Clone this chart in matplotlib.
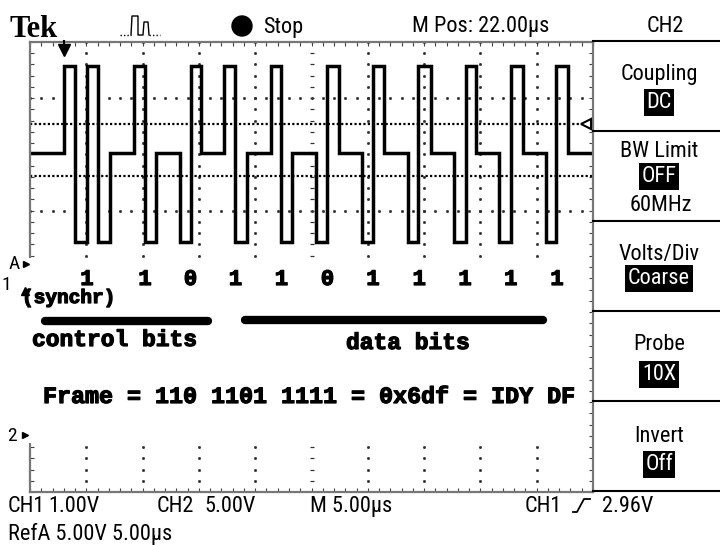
import numpy as np
import matplotlib
matplotlib.use('Agg')
import matplotlib.pyplot as plt
import matplotlib.patheffects as pe
from matplotlib import font_manager as fm
from matplotlib.transforms import blended_transform_factory
from matplotlib.patches import Rectangle, Circle

# CH1 trace: edge times (us from left edge) and level after each edge
edge_t = [0.0,
          3.02, 4.00, 5.06, 6.08, 7.10,
          9.24, 10.21, 11.19,
          13.32, 14.30, 15.19,
          17.23, 18.25, 19.27,
          21.40, 22.29, 23.27,
          25.40, 26.38, 27.44,
          29.48, 30.42, 31.44,
          33.53, 34.50, 35.61,
          37.66, 38.68, 39.61,
          41.65, 42.72, 43.74,
          45.83, 46.71, 47.78]
edge_lvl = list("B" "HLHLB" "HLB" "LHB" "HLB" "HLB" "LHB" "LHB" "LHB" "LHB" "LHB" "LHB")
level_volts = {'H': 4.00, 'B': 2.45, 'L': 0.87}

bits = ['1', '1', '0', '1', '1', '0', '1', '1', '1', '1', '1']
frame_text = "Frame = 110 1101 1111 = 0x6df = IDY DF"

# scope settings
t_div = 5.0          # us/div
ch1_vdiv = 1.00      # V/div
ch1_pos = -0.42      # div
trig_level = 2.96    # V
cursor2 = 2.03       # V
m_pos = 22.0         # us
t_span = 10 * t_div

control_span = (1.3, 15.8)   # us, underline of control bits
data_span = (19.1, 45.6)     # us, underline of data bits

MONO = 'Liberation Mono'
BOLDER = [pe.withStroke(linewidth=0.9, foreground='black')]


def pick_scope_font():
    # narrow screen font if one is around, else plain Liberation Sans a bit smaller
    for fam, st in [('Liberation Sans Narrow', 'normal'), ('Roboto Condensed', 'normal'),
                    ('DejaVu Sans', 'condensed'), ('Roboto', 'condensed'),
                    ('Open Sans', 'condensed'), ('Noto Sans', 'condensed')]:
        fp = fm.FontProperties(family=fam, stretch=st)
        try:
            path = fm.findfont(fp, fallback_to_default=False)
        except Exception:
            continue
        name = path.lower()
        if 'narrow' in name or 'condensed' in name:
            return path, 16
    return fm.findfont(fm.FontProperties(family='Liberation Sans')), 14


SCOPE_PATH, SCOPE_SIZE = pick_scope_font()
SCOPE_FP = fm.FontProperties(fname=SCOPE_PATH, size=SCOPE_SIZE)
SMALL_FP = fm.FontProperties(fname=SCOPE_PATH, size=SCOPE_SIZE - 2)


def stext(x, y, s, fp=SCOPE_FP, **kw):
    return ov.text(x, y, s, fontproperties=fp, va='baseline', **kw)


def to_div(v):
    return v / ch1_vdiv + ch1_pos


fig = plt.figure(figsize=(7.2, 5.45), dpi=100)
W, H = 720, 545
ax = fig.add_axes([30 / W, 53 / H, 563 / W, 450 / H])
ax.set_xlim(0, t_span)
ax.set_ylim(-4, 4)

# graticule
ax.set_xticks(np.arange(0, t_span + 0.01, t_div / 5))
ax.set_yticks(np.arange(-4, 4.01, 0.2))
ax.tick_params(direction='in', length=3, width=0.8, top=True, right=True,
               labelbottom=False, labelleft=False, color='#444')
for s in ax.spines.values():
    s.set_color('#777')
    s.set_linewidth(1.6)

ys = np.arange(-4, 4.01, 0.2)
for k in range(1, 10):
    t = k * t_div
    if k == 5:
        ax.plot(np.full_like(ys, t), ys, ls='none', marker='_', ms=3.5, mew=0.9, color='#333')
    else:
        ax.plot(np.full_like(ys, t), ys, ls='none', marker='s', ms=1.0, color='#333')
xs = np.arange(0, t_span + 0.01, t_div / 5)
for r in [3, 1, -1, -3]:
    ax.plot(xs, np.full_like(xs, r), ls='none', marker='s', ms=1.0, color='#333')
ax.plot(xs, np.zeros_like(xs), ls='none', marker='|', ms=3.5, mew=0.9, color='#333')

# cursors / trigger level lines
for v in [trig_level, cursor2]:
    ax.axhline(to_div(v), ls=(0, (1, 1)), lw=1.6, color='black')

# trace
tx = edge_t + [t_span]
ty = [to_div(level_volts[c]) for c in edge_lvl] + [to_div(level_volts[edge_lvl[-1]])]
ax.plot(tx, ty, drawstyle='steps-post', color='black', lw=2.5, solid_joinstyle='miter')

# overlay in pixel coordinates
ov = fig.add_axes([0, 0, 1, 1])
ov.set_xlim(0, W)
ov.set_ylim(H, 0)
ov.axis('off')
ov.patch.set_alpha(0)
bt = blended_transform_factory(ax.transData, ov.transData)
by = blended_transform_factory(ov.transData, ax.transData)

# annotation area pasted over the graticule
ov.add_patch(Rectangle((0, 258), 588, 185, fc='white', ec='none', zorder=1))

# trigger position arrow
trig_t = t_span / 2 - m_pos
ov.plot([trig_t, trig_t], [41, 49], transform=bt, color='black', lw=1.5, zorder=4)
ov.plot([trig_t], [50], transform=bt, marker='v', ms=9, color='black', zorder=4)
# trigger level marker
ov.plot([586], [to_div(trig_level)], transform=by, marker='<', ms=7, mfc='white',
        mec='black', mew=1.5, zorder=4)

# channel markers
stext(9, 269, 'A', fp=SMALL_FP, zorder=4)
ov.plot([26], [264], marker='>', ms=5, color='black', zorder=4)
stext(1, 290, '1', fp=SMALL_FP, zorder=4)
ov.plot([25], [to_div(0)], transform=by, marker='^', ms=6, color='black', zorder=4)
stext(7, 441, '2', fp=SMALL_FP, zorder=4)
ov.plot([25], [435], marker='>', ms=5, color='black', zorder=4)

# bit labels centred on each pulse group
groups = []
start = None
for t, c in zip(edge_t, edge_lvl):
    if c != 'B' and start is None:
        start = t
    elif c == 'B' and start is not None:
        groups.append((start + t) / 2)
        start = None
mono = dict(family=MONO, weight='bold', va='baseline', zorder=4, path_effects=BOLDER)
for b, gx in zip(bits, groups):
    ov.text(gx, 285, b, transform=bt, fontsize=16, ha='center', **mono)
ov.text(22, 303, '(synchr)', fontsize=14, **mono)
ov.plot(control_span, [321, 321], transform=bt, lw=6, color='black',
        solid_capstyle='round', zorder=4)
ov.plot(data_span, [320, 320], transform=bt, lw=6, color='black',
        solid_capstyle='round', zorder=4)
ov.text(32, 346, 'control bits', fontsize=16.5, **mono)
ov.text(346, 349, 'data bits', fontsize=16.5, **mono)
ov.text(43, 403, frame_text, fontsize=16.8, **mono)

# header
ov.text(10, 37, 'Tek', family='Liberation Serif', weight='bold', fontsize=22, va='baseline')
ov.plot([120, 131], [35, 35], ls=(0, (1, 1.5)), color='black', lw=1)
ov.plot([131, 132, 138, 138, 143, 144, 148, 149], [35, 16, 16, 35, 35, 22, 22, 35],
        color='black', lw=1)
ov.plot([149, 160], [35, 35], ls=(0, (1, 1.5)), color='black', lw=1)
ov.add_patch(Circle((242, 26), 10, color='black'))
stext(263, 33, 'Stop')
stext(412, 32, 'M Pos: 22.00µs')
stext(665, 32, 'CH2', ha='center')

# side menu
for yl in [41, 131, 221, 311, 401, 491]:
    ov.plot([593, 720], [yl, yl], color='black', lw=1.5)
inv = dict(boxstyle='square,pad=0.12', fc='black', ec='none')
menu = [('Coupling', 80, 'DC', 108), ('BW Limit', 157, 'OFF', 182),
        ('Volts/Div', 260, 'Coarse', 284), ('Probe', 350, '10X', 380),
        ('Invert', 442, 'Off', 470)]
for title, ty0, val, vy in menu:
    stext(659, ty0, title, ha='center')
    stext(659, vy, val, ha='center', color='white', bbox=inv)
stext(661, 211, '60MHz', ha='center')

# status line
stext(8, 512, 'CH1')
stext(48, 512, '1.00V')
stext(157, 512, 'CH2')
stext(204, 512, '5.00V')
stext(310, 512, 'M 5.00µs')
stext(525, 512, 'CH1')
ov.plot([573, 577, 584, 590], [512, 512, 499, 499], color='black', lw=1.3)
stext(602, 512, '2.96V')
stext(8, 540, 'RefA 5.00V 5.00µs')

fig.savefig('out.png', dpi=100)
